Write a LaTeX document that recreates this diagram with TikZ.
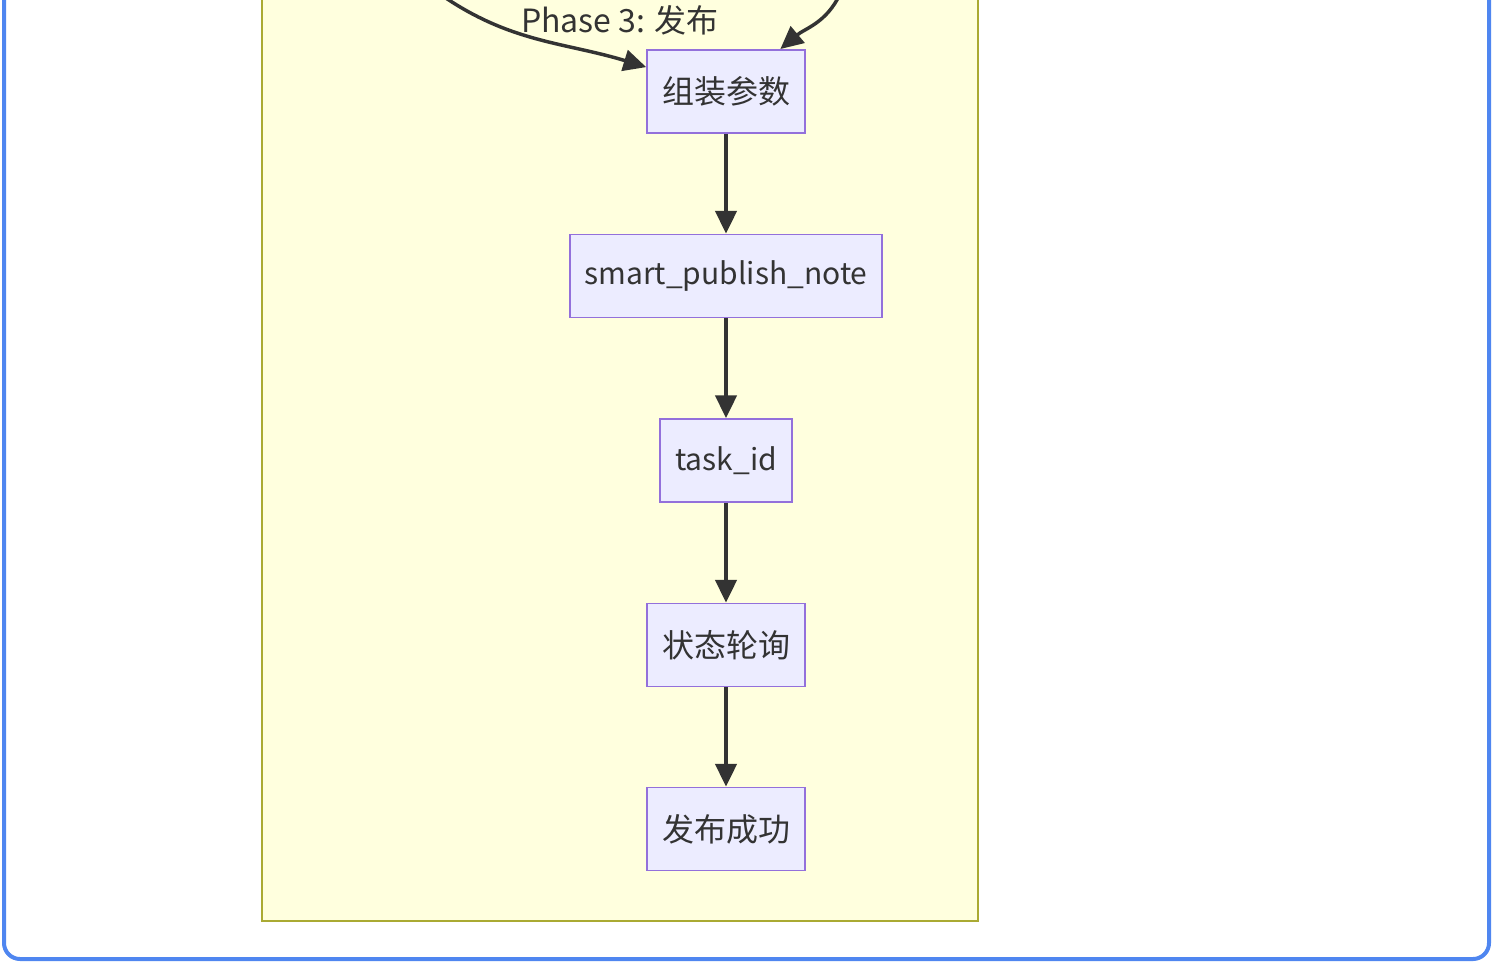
\documentclass[tikz,border=0pt]{standalone}
\usepackage{fontspec}
\setmainfont{Noto Sans CJK SC}
\usepackage{tikz}
\usetikzlibrary{arrows.meta,positioning}
\definecolor{nodefill}{HTML}{ECECFF}
\definecolor{nodeline}{HTML}{9370DB}
\definecolor{clusterfill}{HTML}{FFFFDE}
\definecolor{clusterline}{HTML}{AAAA33}
\definecolor{edgegray}{HTML}{333333}
\definecolor{frameblue}{HTML}{4F86F0}

\begin{document}
\begin{tikzpicture}[x=0.75pt,y=-0.75pt,
    box/.style={draw=nodeline,fill=nodefill,line width=1.2pt,minimum width=118.5pt,minimum height=62.5pt,inner sep=0pt,text=edgegray,font=\fontsize{24}{28}\selectfont},
    latinbox/.style={box,font=\fontsize{22.5}{28}\selectfont},
    flow/.style={draw=edgegray,line width=2.6pt,-{Triangle[length=17pt,width=16pt]}}]
            \useasboundingbox (0,0) rectangle (1492,964);
            \clip (0,0) rectangle (1492,964);
            \draw[frameblue,line width=3pt,rounded corners=12pt] (4,-60) rectangle (1489,959);
            \draw[clusterline,fill=clusterfill,line width=1.5pt] (262,-10) rectangle (978,921);
            \node[text=edgegray,font=\fontsize{24}{28}\selectfont] (title) at (620,20) {Phase 3: 发布};
            \node[box] (assemble) at (726,91.5) {组装参数};
            \node[latinbox,minimum width=234pt] (publish) at (726,276) {smart\_publish\_note};
            \node[latinbox,minimum width=99pt] (taskid) at (726,460.5) {task\_id};
            \node[box] (poll) at (726,645) {状态轮询};
            \node[box] (success) at (726,829) {发布成功};
            \coordinate (fromleft) at (440,-6);
            \coordinate (fromright) at (840,-6);
            \draw[flow] (fromleft) to[out=-35,in=163] (assemble.163);
            \draw[flow] (fromright) to[out=-115,in=40] (assemble.38);
            \draw[flow] (assemble) -- (publish);
            \draw[flow] (publish) -- (taskid);
            \draw[flow] (taskid) -- (poll);
            \draw[flow] (poll) -- (success);
        \end{tikzpicture}
\end{document}
